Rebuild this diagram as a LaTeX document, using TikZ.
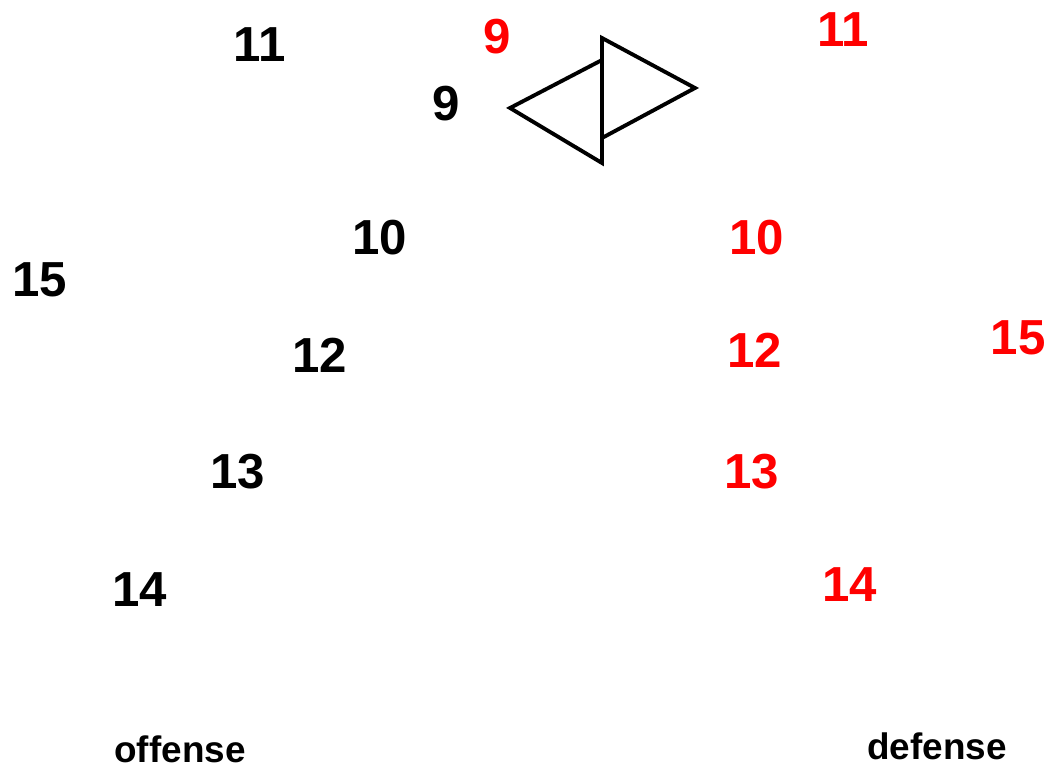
\documentclass[tikz,border=0pt]{standalone}
\usepackage{fontspec}
\setmainfont{Liberation Sans}
\usetikzlibrary{positioning}
\definecolor{Ink}{HTML}{000000}
\definecolor{Defense}{HTML}{FF0000}
\tikzset{
  offplayer/.style={text=Ink, font=\fontsize{28}{28}\selectfont\bfseries, inner sep=0pt},
  defplayer/.style={text=Defense, font=\fontsize{28}{28}\selectfont\bfseries, inner sep=0pt},
  sidelabel/.style={text=Ink, font=\fontsize{21}{21}\selectfont\bfseries, inner sep=0pt},
  ball/.style={draw=Ink, line width=2.2pt, line join=miter}
}
\begin{document}
\begin{tikzpicture}[x=0.02cm, y=-0.02cm]
    \useasboundingbox (0,0) rectangle (1052,770);
    % offense
    \node[offplayer] (o11) at (260,45) {11};
    \node[offplayer] (o9) at (446,104) {9};
    \node[offplayer] (o10) at (380,238) {10};
    \node[offplayer] (o15) at (40,280) {15};
    \node[offplayer] (o12) at (320,355) {12};
    \node[offplayer] (o13) at (238,472) {13};
    \node[offplayer] (o14) at (140,590) {14};
    \node[sidelabel] (off) at (180,749) {offense};
    % defense
    \node[defplayer] (d9) at (497,37) {9};
    \node[defplayer] (d11) at (843,30) {11};
    \node[defplayer] (d10) at (757,238) {10};
    \node[defplayer] (d15) at (1018,338) {15};
    \node[defplayer] (d12) at (755,350) {12};
    \node[defplayer] (d13) at (752,472) {13};
    \node[defplayer] (d14) at (850,585) {14};
    \node[sidelabel] (def) at (937,746) {defense};
    % the two triangles
    \draw[ball] (510,108) -- (602,60) -- (602,163) -- cycle;
    \draw[ball] (602,38) -- (695,88) -- (602,138) -- cycle;
\end{tikzpicture}
\end{document}
